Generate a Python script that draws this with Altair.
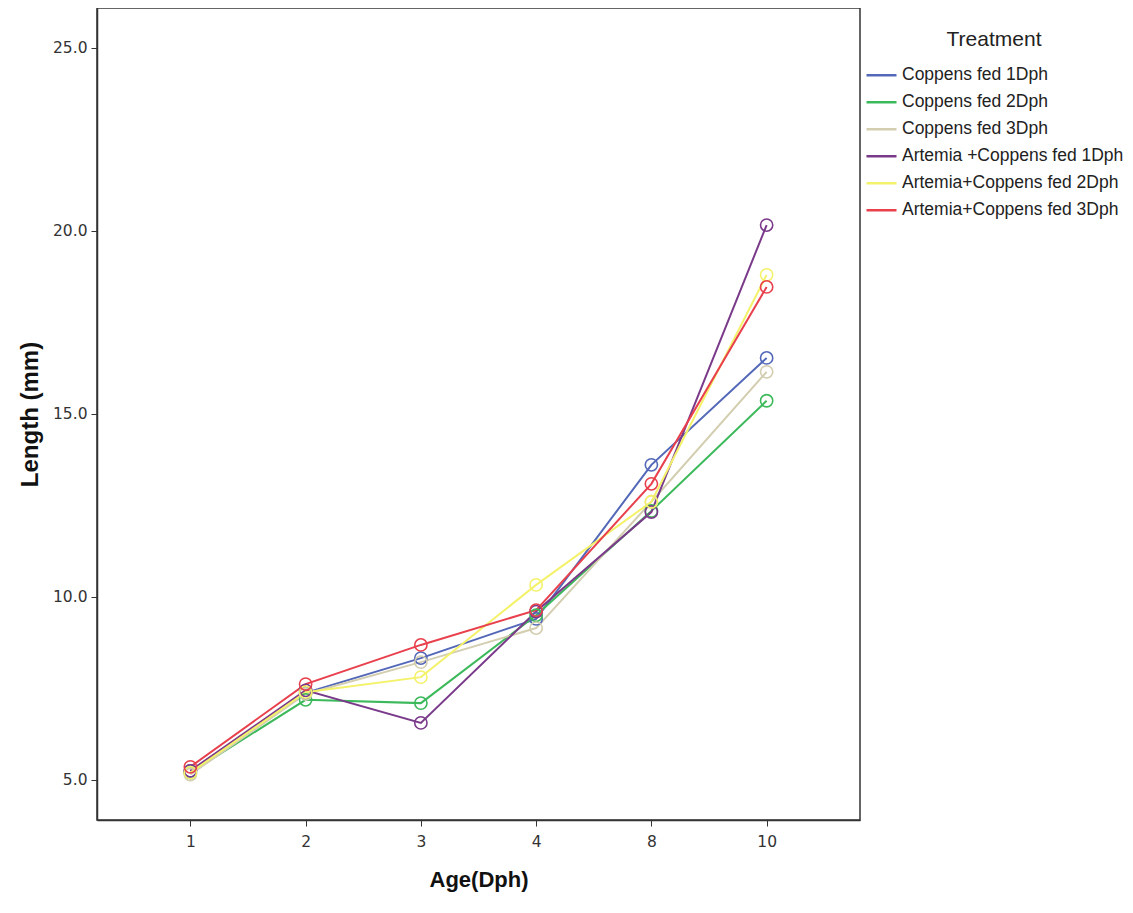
import altair as alt
import pandas as pd

ages = ["1", "2", "3", "4", "8", "10"]
treatments = [
    "Coppens fed  1Dph",
    "Coppens  fed 2Dph",
    "Coppens fed 3Dph",
    "Artemia +Coppens fed 1Dph",
    "Artemia+Coppens fed 2Dph",
    "Artemia+Coppens fed 3Dph",
]
colors = ["#5468b8", "#3cb95a", "#d3ceb0", "#7a3a8a", "#f4f26a", "#e8404c"]

coppens_1 = [5.25, 7.38, 8.33, 9.40, 13.61, 16.53]
coppens_2 = [5.20, 7.19, 7.10, 9.50, 12.35, 15.36]
coppens_3 = [5.15, 7.35, 8.22, 9.15, 12.60, 16.15]
artemia_1 = [5.25, 7.45, 6.56, 9.60, 12.32, 20.16]
artemia_2 = [5.20, 7.40, 7.81, 10.33, 12.60, 18.80]
artemia_3 = [5.36, 7.62, 8.69, 9.64, 13.09, 18.47]

series = [coppens_1, coppens_2, coppens_3, artemia_1, artemia_2, artemia_3]

rows = []
for k, (name, vals) in enumerate(zip(treatments, series)):
    for i, (a, v) in enumerate(zip(ages, vals)):
        rows.append({"Age": a, "Length": v, "Treatment": name, "ord": k})
df = pd.DataFrame(rows)

x = alt.X("Age:O", sort=ages, title="Age(Dph)",
          scale=alt.Scale(type="point", padding=0.81),
          axis=alt.Axis(labelAngle=0, labelFontSize=15.5, labelColor="#333",
                        labelFont="DejaVu Sans", tickSize=6, tickColor="#333",
                        titleFontSize=22, titleFont="Liberation Sans", titleFontWeight="bold",
                        titlePadding=20, titleColor="#111", domainColor="#333", domainWidth=1.5,
                        labelPadding=8))
y = alt.Y("Length:Q", title="Length (mm)",
          scale=alt.Scale(domain=[3.907, 26.09], nice=False, zero=False),
          axis=alt.Axis(values=[5, 10, 15, 20, 25], format=".1f", grid=False,
                        labelFontSize=15.5, labelColor="#333", labelFont="DejaVu Sans",
                        tickSize=6, tickColor="#333", labelPadding=4,
                        titleFontSize=24, titleFont="Liberation Sans", titleFontWeight="bold",
                        titlePadding=10, titleColor="#111", domainColor="#333", domainWidth=1.5))
color = alt.Color("Treatment:N", sort=treatments,
                  scale=alt.Scale(domain=treatments, range=colors),
                  legend=alt.Legend(title="Treatment", orient="none", legendX=768, legendY=21,
                                    symbolType="stroke", symbolSize=900, symbolStrokeWidth=2.5,
                                    clipHeight=26.3, rowPadding=0, labelLimit=0,
                                    titleFontSize=21, titleFont="Liberation Sans", titleFontWeight="normal",
                                    titleColor="#222", titleAnchor="middle", titlePadding=12,
                                    labelFontSize=17.5, labelFont="Liberation Sans",
                                    labelColor="#222", labelOffset=4))

base = alt.Chart(df).encode(x=x, y=y, color=color, order=alt.Order("ord:Q"))
lines = base.mark_line(strokeWidth=2)
points = base.mark_point(shape="circle", filled=False, size=150, strokeWidth=1.6, opacity=1)

chart = (lines + points).properties(
    width=763, height=812,
    autosize=alt.AutoSizeParams(type="none"),
    padding={"left": 89, "top": 0, "right": 265, "bottom": 85},
    background="white",
).configure_view(stroke="#333", strokeWidth=1.5)

chart.save("out.html", embed_options={"renderer": "svg", "actions": False})
